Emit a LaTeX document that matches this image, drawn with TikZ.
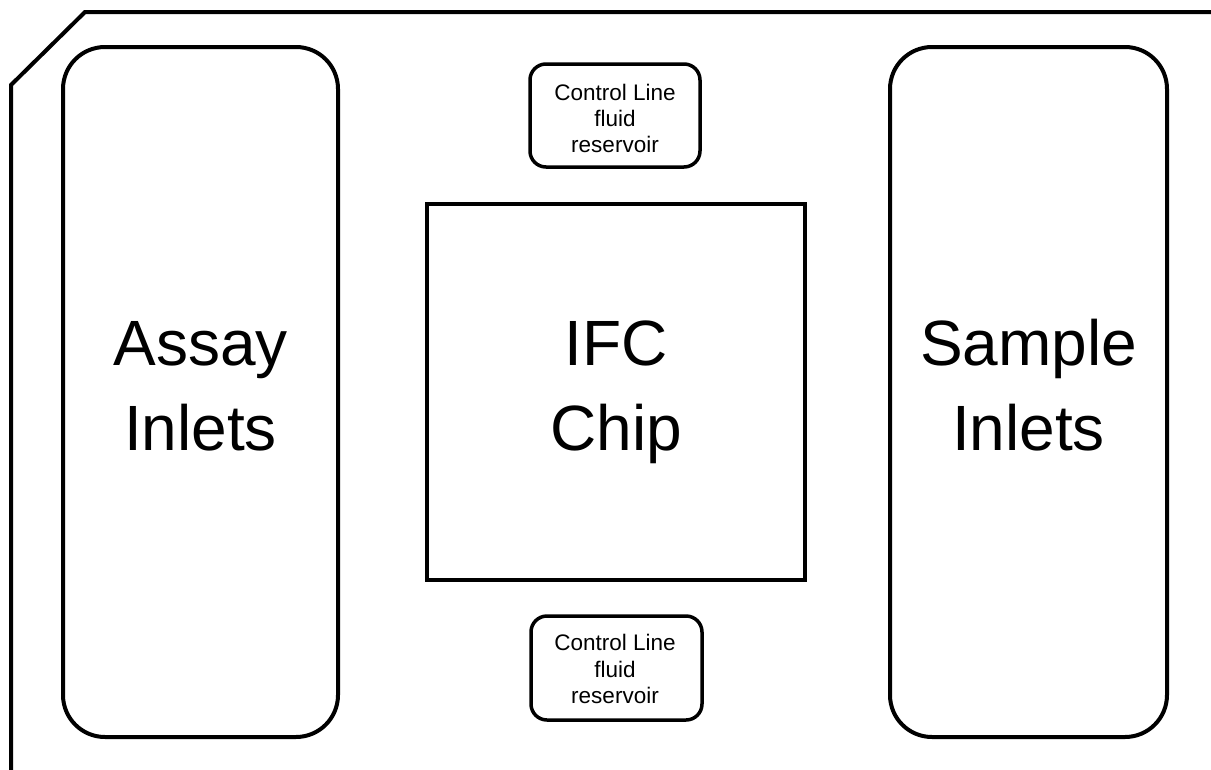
\documentclass[tikz,border=0pt]{standalone}
\usepackage{fontspec}
\setmainfont{Liberation Sans}
\begin{document}
\begin{tikzpicture}[x=1pt,y=-1pt,
  frame/.style={line width=4pt, line join=miter},
  inletbox/.style={draw, line width=4pt, rounded corners=42pt},
  chipbox/.style={draw, line width=4pt},
  resbox/.style={draw, line width=3.5pt, rounded corners=16pt},
  bigtext/.style={anchor=base, inner sep=0pt, font=\fontsize{64}{77}\selectfont},
  smalltext/.style={anchor=base, inner sep=0pt, font=\fontsize{22.5}{27}\selectfont}]
\useasboundingbox[fill=white] (0,0) rectangle (1211,769);
% outer frame (cut off at right and bottom)
\coordinate (fb) at (11,775);
\coordinate (fl) at (11,85);
\coordinate (ft) at (85,12);
\coordinate (fr) at (1216,12);
\draw[frame] (fb) -- (fl) -- (ft) -- (fr);
% boxes
\draw[inletbox] (63,47) rectangle (338,737);
\draw[inletbox] (890,47) rectangle (1167,737);
\draw[chipbox] (427,204) rectangle (805,580);
\draw[resbox] (530,64) rectangle (700,167);
\draw[resbox] (531,616) rectangle (702,720);
% labels
\node[bigtext] (a1) at (200.5,365) {Assay};
\node[bigtext] (a2) at (200.5,450) {Inlets};
\node[bigtext] (c1) at (616.5,365) {IFC};
\node[bigtext] (c2) at (616.5,450) {Chip};
\node[bigtext] (s1) at (1028.5,365) {Sample};
\node[bigtext] (s2) at (1028.5,450) {Inlets};
\node[smalltext] (r1) at (615,100) {Control Line};
\node[smalltext] (r2) at (615,126) {fluid};
\node[smalltext] (r3) at (615,152) {reservoir};
\node[smalltext] (q1) at (615,650) {Control Line};
\node[smalltext] (q2) at (615,677) {fluid};
\node[smalltext] (q3) at (615,703) {reservoir};
\end{tikzpicture}
\end{document}
